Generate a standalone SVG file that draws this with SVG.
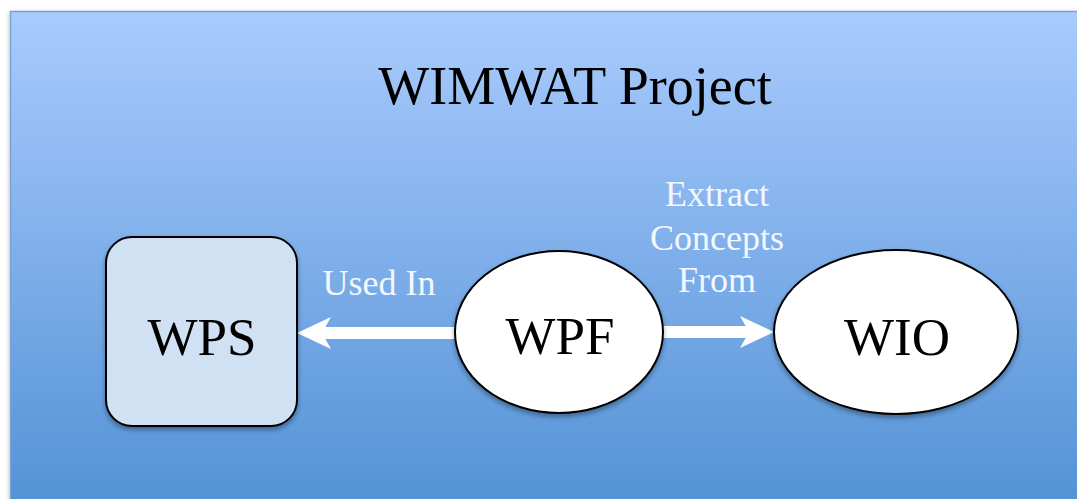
<svg xmlns="http://www.w3.org/2000/svg" width="1077" height="499" viewBox="0 0 1077 499">
  <defs>
    <linearGradient id="bg" x1="0" y1="0" x2="0" y2="1">
      <stop offset="0" stop-color="#a9cbfd"/>
      <stop offset="1" stop-color="#5392d6"/>
    </linearGradient>
    <filter id="shadow" x="-20%" y="-20%" width="140%" height="150%">
      <feDropShadow dx="0" dy="3" stdDeviation="2.5" flood-color="#000" flood-opacity="0.35"/>
    </filter>
    <filter id="pageShadow" x="-5%" y="-5%" width="110%" height="110%">
      <feDropShadow dx="-1" dy="1" stdDeviation="2" flood-color="#000" flood-opacity="0.2"/>
    </filter>
    <!-- arrowhead anchored at its notch so the shaft stops inside the head -->
    <marker id="head" viewBox="0 0 34 32" refX="10" refY="16" markerWidth="34" markerHeight="32" markerUnits="userSpaceOnUse" orient="auto">
      <path d="M0,0 L34,16 L0,32 L9,16 Z" fill="#ffffff"/>
    </marker>
    <style>
      .node { stroke: #000; stroke-width: 2; filter: url(#shadow); }
      .nlabel { font-family: "Liberation Serif", "Times New Roman", serif; font-size: 53px; fill: #000; text-anchor: middle; }
      .elabel { font-family: "Liberation Serif", "Times New Roman", serif; font-size: 36px; fill: #f4f7ff; text-anchor: middle; }
      .edge { stroke: #ffffff; stroke-width: 12; fill: none; }
    </style>
  </defs>

  <rect width="1077" height="499" fill="#ffffff"/>
  <!-- project panel -->
  <rect x="10.5" y="11.5" width="1070" height="495" fill="url(#bg)" stroke="#79a3d8" stroke-width="1.5" filter="url(#pageShadow)"/>
  <text x="575" y="104" font-family="Liberation Serif, 'Times New Roman', serif" font-size="54" fill="#000" text-anchor="middle">WIMWAT Project</text>

  <g id="connectors">
    <line class="edge" x1="456" y1="333" x2="321" y2="333" marker-end="url(#head)"/>
    <line class="edge" x1="663" y1="332" x2="750" y2="332" marker-end="url(#head)"/>
    <text class="elabel" x="379" y="295">Used In</text>
    <text class="elabel" x="717" y="206">Extract</text>
    <text class="elabel" x="717" y="250">Concepts</text>
    <text class="elabel" x="717" y="292">From</text>
  </g>

  <g id="WPS">
    <rect class="node" x="106" y="237" width="191" height="189" rx="26" ry="26" fill="#d0e1f3"/>
    <text class="nlabel" x="202" y="355">WPS</text>
  </g>

  <g id="WPF">
    <ellipse class="node" cx="559" cy="332" rx="104" ry="81" fill="#ffffff"/>
    <text class="nlabel" x="560" y="354">WPF</text>
  </g>

  <g id="WIO">
    <ellipse class="node" cx="896" cy="332" rx="122" ry="82" fill="#ffffff"/>
    <text class="nlabel" x="897" y="355">WIO</text>
  </g>
</svg>
